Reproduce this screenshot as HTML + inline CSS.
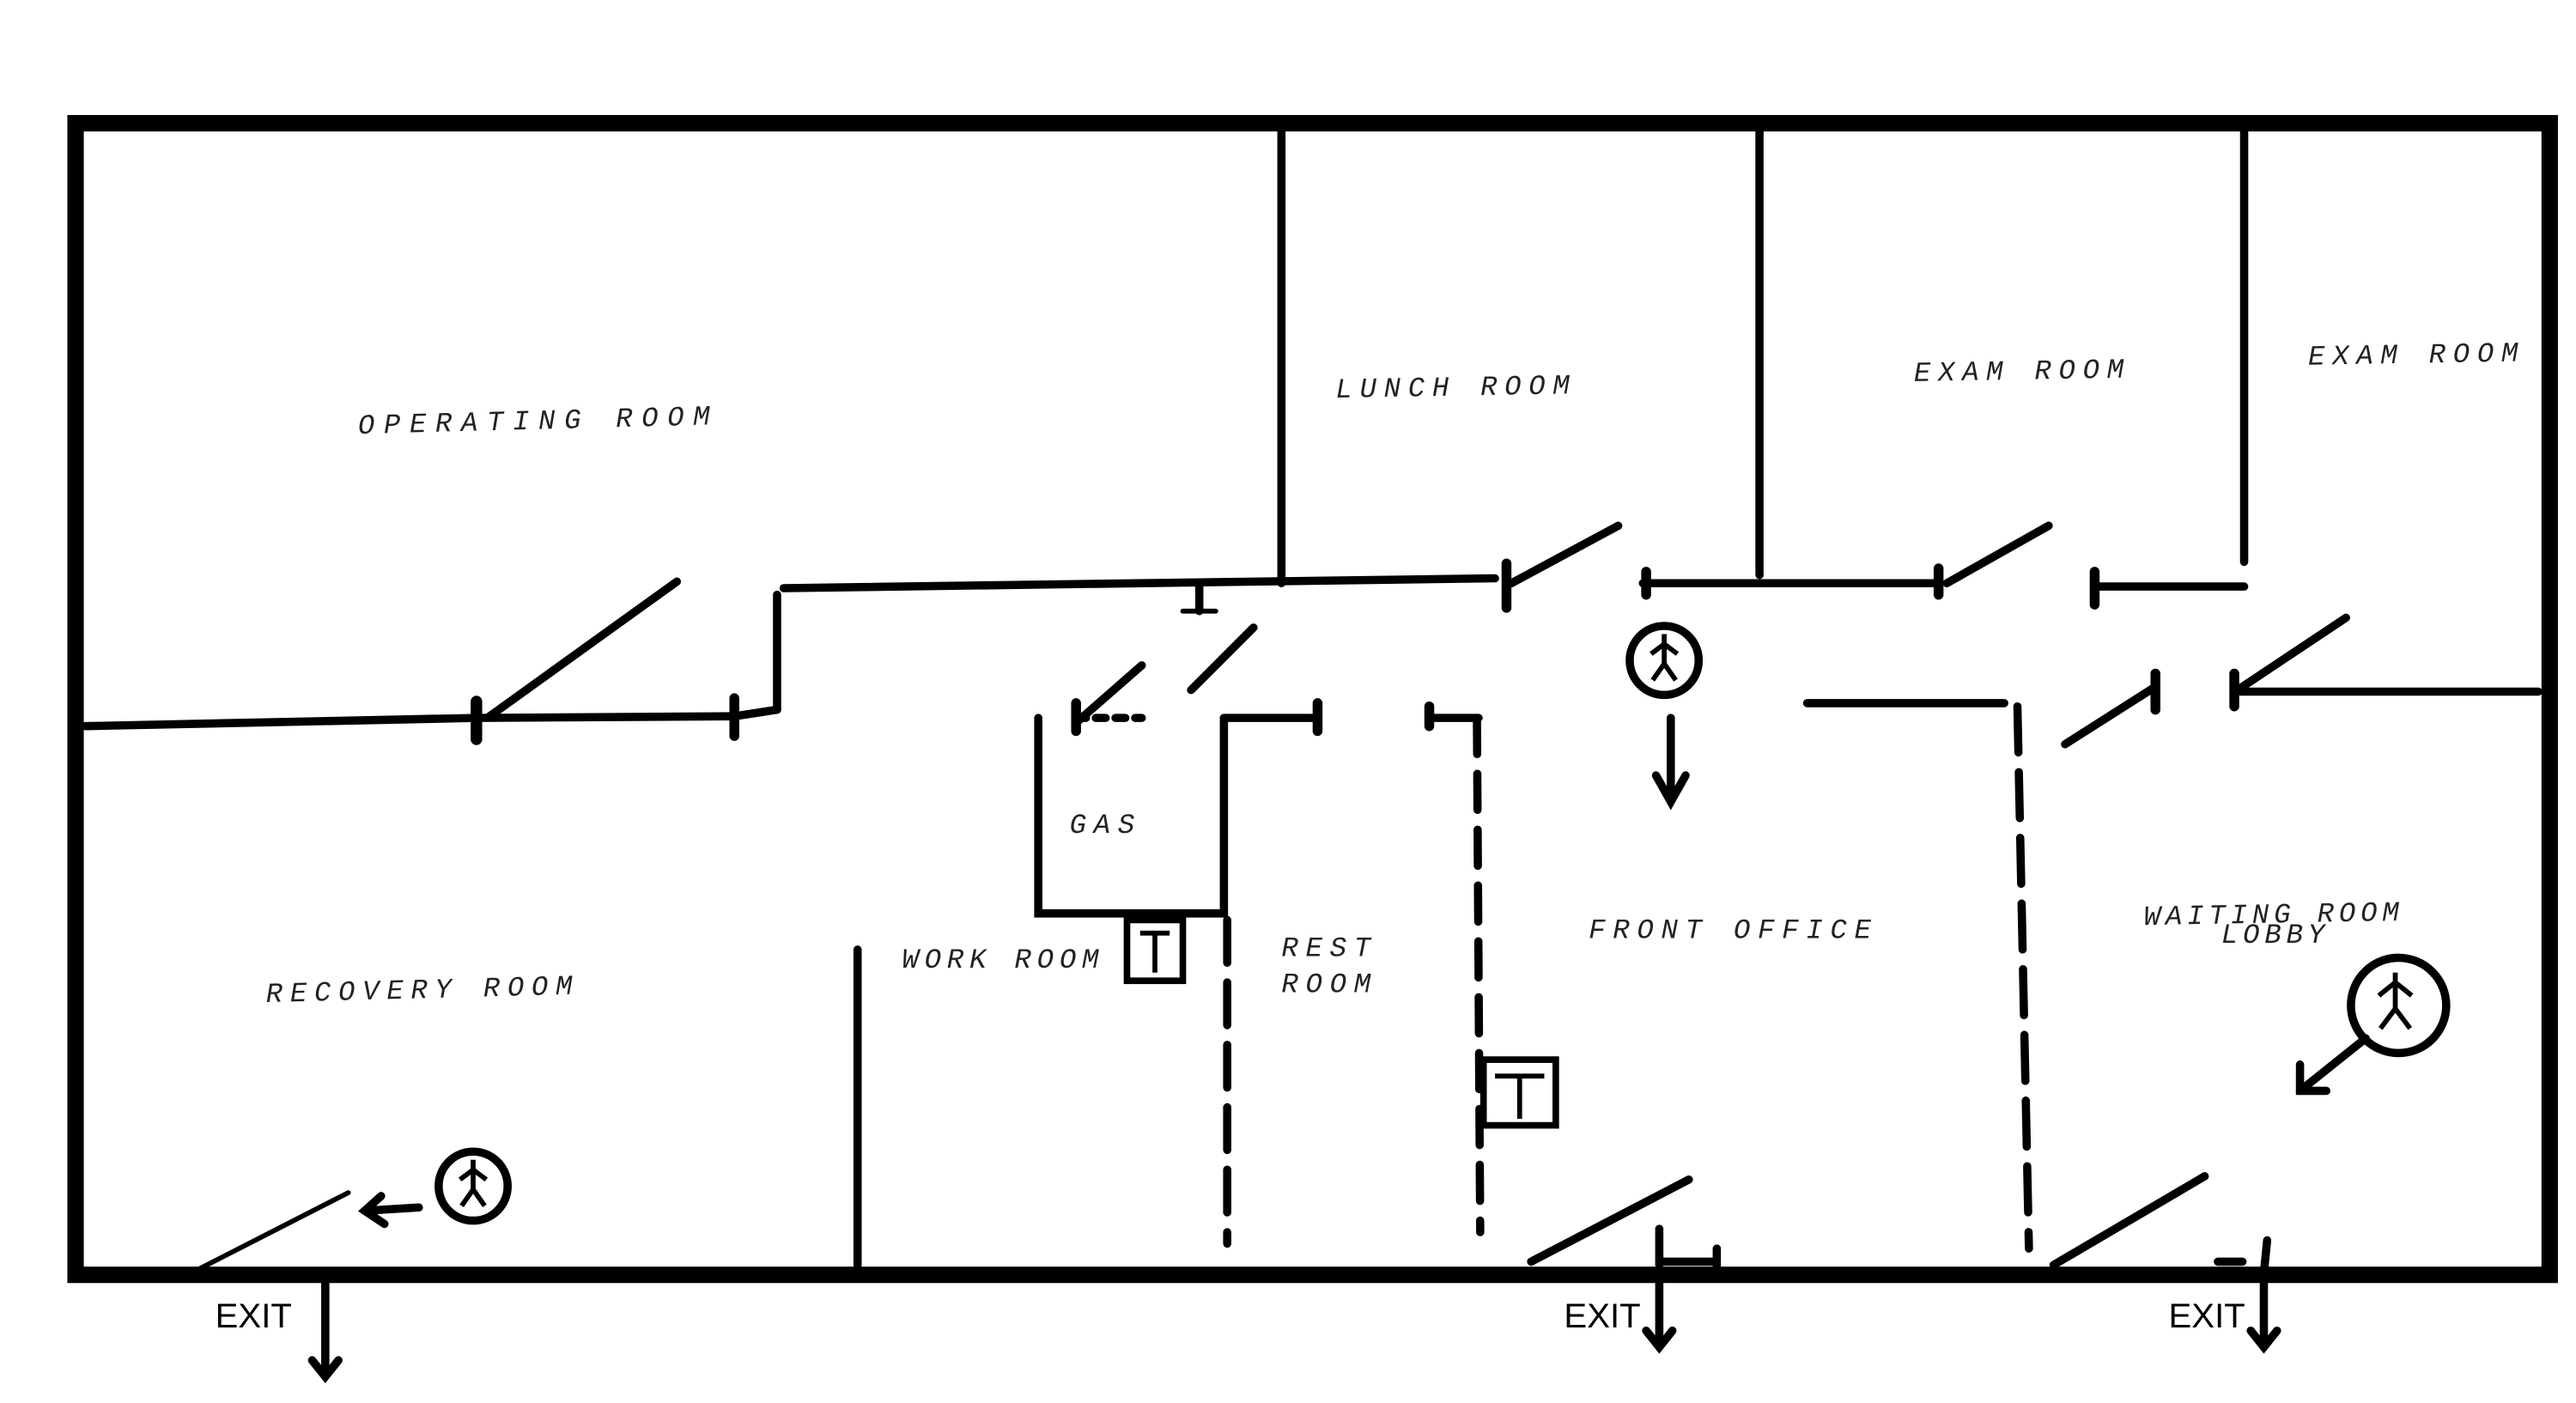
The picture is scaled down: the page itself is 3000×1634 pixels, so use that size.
<!DOCTYPE html>
<html><head><meta charset="utf-8"><style>
html,body{margin:0;padding:0;background:#fff;}
svg{display:block}
.l{font-family:"Liberation Mono",monospace;font-size:17px;font-style:italic;letter-spacing:4.5px;fill:#222}
.e{font-family:"Liberation Sans",sans-serif;font-size:21px;fill:#000}
</style></head><body>
<svg width="3000" height="1634" viewBox="0 0 1568 854" xmlns="http://www.w3.org/2000/svg">
<rect width="1568" height="854" fill="#fff"/>
<rect x="46" y="75" width="1506" height="701" fill="none" stroke="#000" stroke-width="10"/>
<g stroke="#000" stroke-width="5" fill="none" stroke-linecap="round">
<line x1="780" y1="80" x2="780" y2="355"/>
<line x1="1071" y1="80" x2="1071" y2="350"/>
<line x1="1366" y1="80" x2="1366" y2="342"/>
<polyline points="477,358 910,352"/>
<line x1="473" y1="362" x2="473" y2="432"/>
<polyline points="52,442 290,437 447,436 473,432"/>
<line x1="298" y1="436" x2="412" y2="354"/>
<line x1="290" y1="427" x2="290" y2="450" stroke-width="7"/>
<line x1="447" y1="425" x2="447" y2="448" stroke-width="6"/>
<line x1="917" y1="343" x2="917" y2="370" stroke-width="6"/>
<line x1="920" y1="355" x2="985" y2="320"/>
<line x1="1000" y1="355" x2="1180" y2="355"/>
<line x1="1002" y1="348" x2="1002" y2="362" stroke-width="6"/>
<line x1="1180" y1="346" x2="1180" y2="362" stroke-width="6"/>
<line x1="1185" y1="355" x2="1247" y2="320"/>
<line x1="1275" y1="357" x2="1366" y2="357"/>
<line x1="1275" y1="348" x2="1275" y2="368" stroke-width="6"/>
<line x1="1100" y1="428" x2="1220" y2="428"/>
<line x1="1364" y1="421" x2="1545" y2="421"/>
<line x1="1360" y1="410" x2="1360" y2="430" stroke-width="6"/>
<line x1="1362" y1="420" x2="1428" y2="376"/>
<line x1="1257" y1="453" x2="1312" y2="418"/>
<line x1="1312" y1="410" x2="1312" y2="432" stroke-width="6"/>
<line x1="730" y1="356" x2="730" y2="372"/>
<line x1="720" y1="372" x2="740" y2="372" stroke-width="3"/>
<line x1="655" y1="440" x2="695" y2="405"/>
<line x1="725" y1="420" x2="763" y2="382"/>
<polyline points="632,437 632,556 745,556 745,437"/>
<line x1="655" y1="437" x2="695" y2="437" stroke-dasharray="6,6"/>
<line x1="745" y1="437" x2="802" y2="437"/>
<line x1="802" y1="428" x2="802" y2="445" stroke-width="6"/>
<line x1="655" y1="428" x2="655" y2="445" stroke-width="6"/>
<line x1="870" y1="437" x2="900" y2="437"/>
<line x1="870" y1="430" x2="870" y2="442" stroke-width="6"/>
<line x1="899" y1="437" x2="901" y2="750" stroke-dasharray="22,12"/>
<line x1="747" y1="560" x2="747" y2="757" stroke-dasharray="26,12"/>
<line x1="1228" y1="430" x2="1235" y2="760" stroke-dasharray="28,12"/>
<line x1="522" y1="578" x2="522" y2="770"/>
<line x1="122" y1="772" x2="212" y2="726" stroke-width="3"/>
<line x1="932" y1="768" x2="1028" y2="718"/>
<line x1="1250" y1="770" x2="1342" y2="716"/>
<line x1="1010" y1="748" x2="1010" y2="770"/>
<line x1="1010" y1="768" x2="1045" y2="768"/>
<line x1="1045" y1="760" x2="1045" y2="772"/>
<line x1="1350" y1="768" x2="1365" y2="768"/>
<line x1="1380" y1="755" x2="1378" y2="775"/>
<line x1="1017" y1="437" x2="1017" y2="488"/>
<polyline points="1008,472 1017,488 1026,472"/>
<line x1="255" y1="735" x2="222" y2="737"/>
<polyline points="232,728 222,737 234,745"/>
<line x1="1440" y1="632" x2="1400" y2="664"/>
<polyline points="1400,648 1400,664 1416,664"/>
<line x1="198" y1="781" x2="198" y2="838"/>
<polyline points="190,828 198,838 206,828"/>
<line x1="1010" y1="781" x2="1010" y2="820"/>
<polyline points="1002,810 1010,820 1018,810"/>
<line x1="1378" y1="781" x2="1378" y2="820"/>
<polyline points="1370,810 1378,820 1386,810"/>
<circle cx="1013" cy="402" r="21"/>
<circle cx="288" cy="722" r="21"/>
<circle cx="1460" cy="612" r="29"/>
<rect x="686" y="560" width="34" height="37" stroke-width="4"/>
<rect x="903" y="645" width="44" height="40" stroke-width="4"/>
</g>
<g stroke="#000" stroke-width="3" fill="none">
<path d="M1013,386 v18 M1005,398 l8,-6 8,6 M1013,404 l-7,10 M1013,404 l7,10"/>
<path d="M288,706 v18 M280,718 l8,-6 8,6 M288,724 l-7,10 M288,724 l7,10"/>
<path d="M1458,592 v22 M1448,606 l10,-8 10,8 M1458,614 l-9,12 M1458,614 l9,12"/>
<path d="M694,568 h18 M703,568 v24 M910,655 h30 M925,655 v26"/>
</g>
<text class="l" x="218" y="264" style="letter-spacing:5.5px" transform="rotate(-1.5 218 264)">OPERATING ROOM</text>
<text class="l" x="813" y="242" transform="rotate(-1 813 242)">LUNCH ROOM</text>
<text class="l" x="1165" y="232" transform="rotate(-1 1165 232)">EXAM ROOM</text>
<text class="l" x="1405" y="222" transform="rotate(-1 1405 222)">EXAM ROOM</text>
<text class="l" x="651" y="507">GAS</text>
<text class="l" x="549" y="589" style="letter-spacing:3.5px">WORK ROOM</text>
<text class="l" x="780" y="582">REST</text>
<text class="l" x="780" y="604">ROOM</text>
<text class="l" x="967" y="571">FRONT OFFICE</text>
<text class="l" x="1305" y="563" style="letter-spacing:3px" transform="rotate(-1 1305 563)">WAITING ROOM</text>
<text class="l" x="1352" y="574" style="letter-spacing:3px">LOBBY</text>
<text class="l" x="162" y="610" transform="rotate(-1.5 162 610)">RECOVERY ROOM</text>
<text class="e" x="131" y="808">EXIT</text>
<text class="e" x="952" y="808">EXIT</text>
<text class="e" x="1320" y="808">EXIT</text>
</svg>
</body></html>
